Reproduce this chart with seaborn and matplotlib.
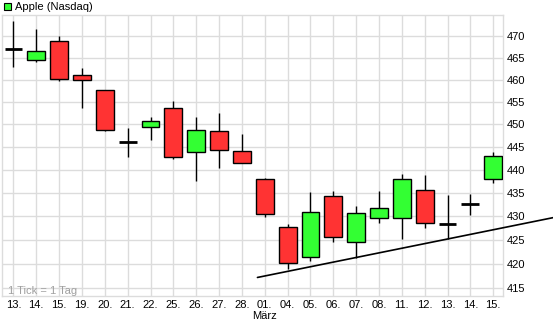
import matplotlib
matplotlib.use("Agg")
import matplotlib.pyplot as plt
import seaborn as sns
import numpy as np
from matplotlib.patches import Rectangle
from matplotlib.ticker import NullLocator, FixedLocator, FixedFormatter

# ---- data ----
dates = ["13.", "14.", "15.", "19.", "20.", "21.", "22.", "25.", "26.", "27.", "28.",
         "01.\nMärz", "04.", "05.", "06.", "07.", "08.", "11.", "12.", "13.", "14.", "15."]
opens = [467.1, 464.4, 468.8, 461.0, 457.6, 446.0, 449.3, 453.7, 443.8, 448.4, 444.0,
         437.9, 427.8, 421.5, 434.4, 424.5, 429.7, 429.7, 435.5, 428.4, 432.7, 437.9]
closes = [467.1, 466.5, 460.1, 459.8, 448.8, 446.0, 450.6, 442.7, 448.8, 444.3, 441.4,
          430.4, 420.1, 431.0, 425.7, 430.6, 431.7, 437.9, 428.5, 428.4, 432.7, 442.9]
highs = [473.5, 471.6, 470.0, 462.6, 457.6, 449.1, 451.6, 455.1, 451.6, 452.5, 447.8,
         438.2, 428.4, 435.1, 435.3, 432.2, 435.4, 439.0, 438.8, 434.5, 434.7, 443.8]
lows = [462.9, 463.9, 459.7, 453.6, 448.5, 442.7, 446.5, 442.4, 437.6, 440.4, 441.4,
        429.9, 419.0, 420.6, 424.5, 421.3, 428.6, 425.1, 427.5, 425.2, 430.3, 437.2]
yticks = [415, 420, 425, 430, 435, 440, 445, 450, 455, 460, 465, 470]
trend_x = [10.68, 23.62]
trend_y = [417.2, 429.7]

sns.set_theme(style="white")
plt.rcParams['font.family'] = ['Liberation Sans', 'DejaVu Sans']

W, H = 553, 330
fig = plt.figure(figsize=(W / 100, H / 100), dpi=100)
ax = fig.add_axes([2 / W, 34 / H, (503.3 - 2) / W, (296 - 15) / H])

grid_c = "#dcdcdc"
green = "#33ff33"
red = "#ff3333"
bw = 0.78

x = np.arange(len(dates))
for i in x:
    o, c, h, l = opens[i], closes[i], highs[i], lows[i]
    ax.vlines(i, l, h, color="black", lw=1.0, zorder=3)
    if abs(c - o) < 0.05:
        ax.hlines(o, i - bw / 2, i + bw / 2, color="black", lw=2.0, zorder=4)
    else:
        col = green if c > o else red
        ax.bar(i, abs(c - o), bottom=min(o, c), width=bw, color=col,
               edgecolor="black", linewidth=1.0, zorder=4)

ax.plot(trend_x, trend_y, color="black", lw=1.2, clip_on=False, zorder=5)

ax.set_yscale("log")
ax.set_ylim(413.4, 474.9)
ax.set_xlim(-0.5, 21.44)
ax.yaxis.set_major_locator(FixedLocator(yticks))
ax.yaxis.set_major_formatter(FixedFormatter([str(t) for t in yticks]))
ax.yaxis.set_minor_locator(NullLocator())
ax.yaxis.tick_right()
ax.set_xticks(x)
ax.set_xticklabels(dates)
ax.tick_params(axis="both", length=0, labelsize=8, colors="black")
ax.tick_params(axis="y", pad=2.5)
ax.tick_params(axis="x", pad=3.0)
for lab in ax.get_xticklabels():
    lab.set_linespacing(1.15)

ax.grid(True, color=grid_c, lw=1.0)
ax.set_axisbelow(True)
for s in ax.spines.values():
    s.set_color(grid_c)
    s.set_linewidth(1.0)

ax.text(8 / W, 1 - 290.5 / H, "1 Tick = 1 Tag", transform=fig.transFigure,
        fontsize=8, color="#a0a0a0", va="center", ha="left")

# legend
fig.patches.append(Rectangle((4 / W, 1 - 10 / H), 7 / W, 7 / H, transform=fig.transFigure,
                             facecolor=green, edgecolor="black", lw=0.8))
fig.text(15 / W, 1 - 6.5 / H, "Apple (Nasdaq)", fontsize=8, va="center", ha="left", color="black")

fig.savefig("out.png", dpi=100)
